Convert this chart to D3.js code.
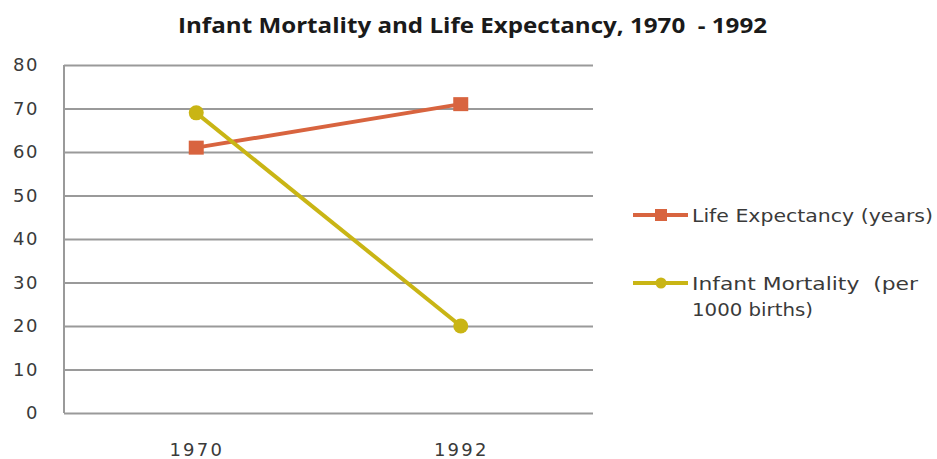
<!DOCTYPE html>
<html>
<head>
<meta charset="utf-8">
<script src="https://cdn.jsdelivr.net/npm/d3@7"></script>
<style>
  html, body { margin: 0; padding: 0; background: #fff; }
  svg { display: block; }
  text { white-space: pre; }
</style>
</head>
<body>
<svg id="chart" width="937" height="459"></svg>
<script>
// Chart data
const years = ["1970", "1992"];
const lifeExpectancy = [61, 71];
const infantMortality = [69, 20];
const yTicks = [0, 10, 20, 30, 40, 50, 60, 70, 80];
const seriesNames = ["Life Expectancy (years)", "Infant Mortality  (per", "1000 births)"];

const colors = { life: "#d8643f", infant: "#c9b515", grid: "#9a9a9a", text: "#3a3a3a" };
const labelFont = "'DejaVu Sans', Verdana, sans-serif";

const svg = d3.select("#chart");
const plot = { left: 64, right: 593, top: 65, bottom: 413 };

const x = d3.scalePoint().domain(years).range([plot.left, plot.right]).padding(0.5);
const y = d3.scaleLinear().domain([0, 80]).range([plot.bottom, plot.top]);

// Title (wide-set bold heading)
svg.append("text")
  .attr("x", 178).attr("y", 33)
  .attr("font-family", "'Open Sans', 'Liberation Sans', sans-serif")
  .attr("font-weight", "bold")
  .attr("font-size", 22)
  .attr("textLength", 589)
  .attr("lengthAdjust", "spacingAndGlyphs")
  .attr("fill", "#1a1a1a")
  .text("Infant Mortality and Life Expectancy, 1970  - 1992");

// Horizontal gridlines with value labels
const yAxis = d3.axisLeft(y).tickValues(yTicks).tickSize(-(plot.right - plot.left)).tickPadding(25);
const gy = svg.append("g").attr("transform", `translate(${plot.left},0)`).call(yAxis);
gy.select(".domain").remove();
gy.selectAll(".tick line").attr("stroke", colors.grid).attr("stroke-width", 2);
gy.selectAll(".tick text")
  .attr("font-family", labelFont)
  .attr("font-size", 18)
  .attr("letter-spacing", 1.5)
  .attr("fill", colors.text);

// Left axis line
svg.append("line")
  .attr("x1", plot.left).attr("x2", plot.left)
  .attr("y1", y(80)).attr("y2", y(0))
  .attr("stroke", colors.grid).attr("stroke-width", 2);

// Category labels
const xAxis = d3.axisBottom(x).tickSize(0).tickPadding(30);
const gx = svg.append("g").attr("transform", `translate(0,${plot.bottom})`).call(xAxis);
gx.select(".domain").remove();
gx.selectAll(".tick text")
  .attr("font-family", labelFont)
  .attr("font-size", 18)
  .attr("letter-spacing", 2.2)
  .attr("fill", colors.text);

const line = d3.line().x((d, i) => x(years[i])).y(d => y(d));

// Life expectancy series
svg.append("path").datum(lifeExpectancy)
  .attr("d", line).attr("fill", "none")
  .attr("stroke", colors.life).attr("stroke-width", 4);
svg.selectAll(".life-pt").data(lifeExpectancy).enter().append("rect")
  .attr("class", "life-pt")
  .attr("x", (d, i) => x(years[i]) - 7.5).attr("y", d => y(d) - 7)
  .attr("width", 15).attr("height", 14)
  .attr("fill", colors.life);

// Infant mortality series
svg.append("path").datum(infantMortality)
  .attr("d", line).attr("fill", "none")
  .attr("stroke", colors.infant).attr("stroke-width", 4);
svg.selectAll(".inf-pt").data(infantMortality).enter().append("circle")
  .attr("class", "inf-pt")
  .attr("cx", (d, i) => x(years[i])).attr("cy", d => y(d))
  .attr("r", 7.5)
  .attr("fill", colors.infant);

// Legend
const lg1 = svg.append("g").attr("transform", "translate(633,215)");
lg1.append("line").attr("x1", 0).attr("x2", 55).attr("stroke", colors.life).attr("stroke-width", 4);
lg1.append("rect").attr("x", 22).attr("y", -6).attr("width", 12).attr("height", 12).attr("fill", colors.life);
lg1.append("text").attr("x", 59).attr("y", 7)
  .attr("font-family", labelFont).attr("font-size", 18)
  .attr("textLength", 241).attr("lengthAdjust", "spacingAndGlyphs")
  .attr("fill", colors.text)
  .text(seriesNames[0]);

const lg2 = svg.append("g").attr("transform", "translate(633,283)");
lg2.append("line").attr("x1", 0).attr("x2", 55).attr("stroke", colors.infant).attr("stroke-width", 4);
lg2.append("circle").attr("cx", 28).attr("cy", 0).attr("r", 5.5).attr("fill", colors.infant);
lg2.append("text").attr("x", 59).attr("y", 7)
  .attr("font-family", labelFont).attr("font-size", 18)
  .attr("textLength", 226).attr("lengthAdjust", "spacingAndGlyphs")
  .attr("fill", colors.text)
  .text(seriesNames[1]);
lg2.append("text").attr("x", 59).attr("y", 33)
  .attr("font-family", labelFont).attr("font-size", 18)
  .attr("textLength", 121).attr("lengthAdjust", "spacingAndGlyphs")
  .attr("fill", colors.text)
  .text(seriesNames[2]);
</script>
</body>
</html>
